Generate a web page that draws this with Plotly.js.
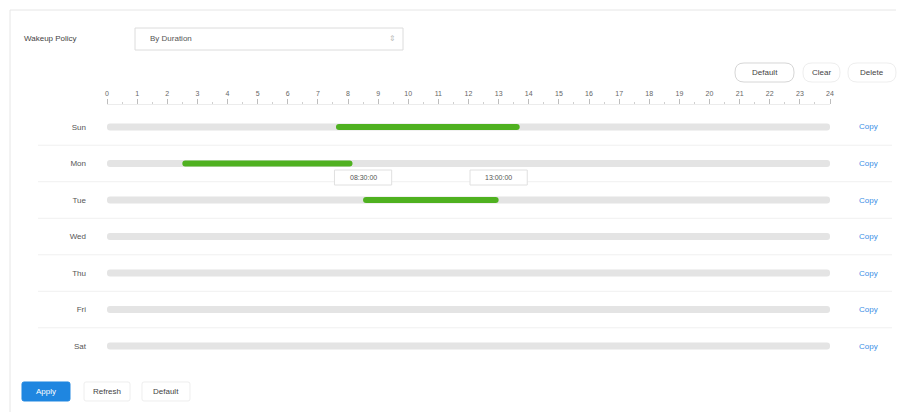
<!DOCTYPE html>
<html>
<head>
<meta charset="utf-8">
<script src="https://cdn.plot.ly/plotly-3.0.1.min.js"></script>
<style>html,body{margin:0;padding:0;background:#fff;}#chart{width:906px;height:412px;}</style>
</head>
<body>
<div id="chart"></div>
<script>
// ---- data ----
const days = ['Sun', 'Mon', 'Tue', 'Wed', 'Thu', 'Fri', 'Sat'];
const hourTicks = [0,1,2,3,4,5,6,7,8,9,10,11,12,13,14,15,16,17,18,19,20,21,22,23,24];
const fullDay = [24, 24, 24, 24, 24, 24, 24];
const scheduledDays = ['Sun', 'Mon', 'Tue'];
const startHours = [7.6, 2.5, 8.5];
const endHours = [13.7, 8.15, 13.0];
const tooltipHours = [8.5, 13.0];
const tooltipLabels = ['08:30:00', '13:00:00'];
const policyLabel = 'Wakeup Policy';
const policyValue = 'By Duration';
const topButtons = ['Default', 'Clear', 'Delete'];
const bottomButtons = ['Apply', 'Refresh', 'Default'];

// ---- helpers ----
const W = 906, H = 412;
const px = x => x / W;
const py = y => 1 - y / H;
function rrect(x0, y0, x1, y1, r) {
  // rounded rect path in paper coords from pixel coords
  const X = v => px(v).toFixed(5), Y = v => py(v).toFixed(5);
  return `M ${X(x0 + r)} ${Y(y0)} L ${X(x1 - r)} ${Y(y0)} Q ${X(x1)} ${Y(y0)} ${X(x1)} ${Y(y0 + r)} ` +
         `L ${X(x1)} ${Y(y1 - r)} Q ${X(x1)} ${Y(y1)} ${X(x1 - r)} ${Y(y1)} L ${X(x0 + r)} ${Y(y1)} ` +
         `Q ${X(x0)} ${Y(y1)} ${X(x0)} ${Y(y1 - r)} L ${X(x0)} ${Y(y0 + r)} Q ${X(x0)} ${Y(y0)} ${X(x0 + r)} ${Y(y0)} Z`;
}

const FONT = 'Liberation Sans, Arial, sans-serif';

const traces = [
  {
    type: 'bar', orientation: 'h', y: days, x: fullDay, base: days.map(() => 0),
    width: 0.19, marker: {color: '#e4e4e4', cornerradius: 3}, hoverinfo: 'skip', showlegend: false
  },
  {
    type: 'bar', orientation: 'h', y: scheduledDays,
    x: endHours.map((e, i) => e - startHours[i]), base: startHours,
    width: 0.17, marker: {color: '#4fb120', cornerradius: 3}, hoverinfo: 'skip', showlegend: false
  }
];

const shapes = [];
const annotations = [];

// outer frame
shapes.push({type: 'line', xref: 'paper', yref: 'paper', x0: px(10), x1: px(896), y0: py(10), y1: py(10), line: {color: '#e6e6e6', width: 1}});
shapes.push({type: 'line', xref: 'paper', yref: 'paper', x0: px(10), x1: px(10), y0: py(10), y1: py(412), line: {color: '#e6e6e6', width: 1}});

// policy select
annotations.push({xref: 'paper', yref: 'paper', x: px(22), y: py(39), xanchor: 'left', yanchor: 'middle', text: policyLabel, showarrow: false, font: {size: 8, color: '#444', family: FONT}});
shapes.push({type: 'rect', xref: 'paper', yref: 'paper', x0: px(135), x1: px(403), y0: py(28), y1: py(50), line: {color: '#dcdcdc', width: 1}, fillcolor: '#fff'});
annotations.push({xref: 'paper', yref: 'paper', x: px(148), y: py(39), xanchor: 'left', yanchor: 'middle', text: policyValue, showarrow: false, font: {size: 8, color: '#555', family: FONT}});
annotations.push({xref: 'paper', yref: 'paper', x: px(392), y: py(39), xanchor: 'center', yanchor: 'middle', text: '⇕', showarrow: false, font: {size: 8, color: '#bbb', family: FONT}});

// top buttons
const tb = [[735, 794], [803, 840], [848, 896]];
topButtons.forEach((t, i) => {
  shapes.push({type: 'path', xref: 'paper', yref: 'paper', path: rrect(tb[i][0], 63, tb[i][1], 82, 9), line: {color: i === 0 ? '#d6d6d6' : '#eeeeee', width: 1}, fillcolor: '#fff'});
  annotations.push({xref: 'paper', yref: 'paper', x: px((tb[i][0] + tb[i][1]) / 2), y: py(72.5), xanchor: 'center', yanchor: 'middle', text: t, showarrow: false, font: {size: 8, color: '#444', family: FONT}});
});

// row separators
for (let i = 0; i < days.length - 1; i++) {
  shapes.push({type: 'line', xref: 'paper', yref: 'y', x0: px(38), x1: px(892), y0: i + 0.5, y1: i + 0.5, line: {color: '#f0f0f0', width: 1}});
}

// copy links
days.forEach(d => {
  annotations.push({xref: 'paper', yref: 'y', x: px(868), y: d, xanchor: 'center', yanchor: 'middle', text: 'Copy', showarrow: false, font: {size: 8, color: '#3a8ee6', family: FONT}});
});

// tooltips (between Mon and Tue rows)
tooltipHours.forEach((h, i) => {
  shapes.push({type: 'rect', xref: 'x', yref: 'paper', x0: h - 0.95, x1: h + 0.95, y0: py(170), y1: py(185), line: {color: '#e0e0e0', width: 1}, fillcolor: '#fff'});
  annotations.push({xref: 'x', yref: 'paper', x: h, y: py(177.5), xanchor: 'center', yanchor: 'middle', text: tooltipLabels[i], showarrow: false, font: {size: 7, color: '#555', family: FONT}});
});

// bottom buttons
const bb = [[22, 70], [84, 130], [142, 190]];
bottomButtons.forEach((t, i) => {
  shapes.push({type: 'path', xref: 'paper', yref: 'paper', path: rrect(bb[i][0], 382, bb[i][1], 401, 2),
    line: {color: i === 0 ? '#1f86e0' : '#eeeeee', width: 1}, fillcolor: i === 0 ? '#1f86e0' : '#fff'});
  annotations.push({xref: 'paper', yref: 'paper', x: px((bb[i][0] + bb[i][1]) / 2), y: py(391.5), xanchor: 'center', yanchor: 'middle', text: t, showarrow: false, font: {size: 8, color: i === 0 ? '#fff' : '#444', family: FONT}});
});

const layout = {
  width: W, height: H,
  margin: {l: 0, r: 0, t: 0, b: 0, pad: 0},
  paper_bgcolor: '#fff', plot_bgcolor: 'rgba(0,0,0,0)',
  barmode: 'overlay',
  hovermode: false,
  showlegend: false,
  font: {family: FONT},
  xaxis: {
    domain: [107 / W, 830 / W], range: [0, 24], fixedrange: true,
    anchor: 'free', position: py(104), side: 'top',
    tickvals: hourTicks, ticktext: hourTicks.map(String),
    ticks: 'outside', ticklen: 5, tickcolor: '#bdbdbd', tickwidth: 1,
    minor: {dtick: 0.5, ticks: 'outside', ticklen: 2, tickcolor: '#d0d0d0'},
    showline: true, linecolor: '#ececec', linewidth: 1,
    showgrid: false, zeroline: false,
    tickfont: {size: 7, color: '#666', family: FONT}
  },
  yaxis: {
    type: 'category', categoryarray: days, categoryorder: 'array',
    domain: [0, 1], range: [7.808, -3.479], fixedrange: true,
    anchor: 'x',
    showgrid: false, zeroline: false, showline: false, ticks: '',
    ticklabelstandoff: 20,
    tickfont: {size: 8, color: '#555', family: FONT}
  },
  shapes: shapes,
  annotations: annotations
};

Plotly.newPlot('chart', traces, layout, {displayModeBar: false, staticPlot: true});
</script>
</body>
</html>
